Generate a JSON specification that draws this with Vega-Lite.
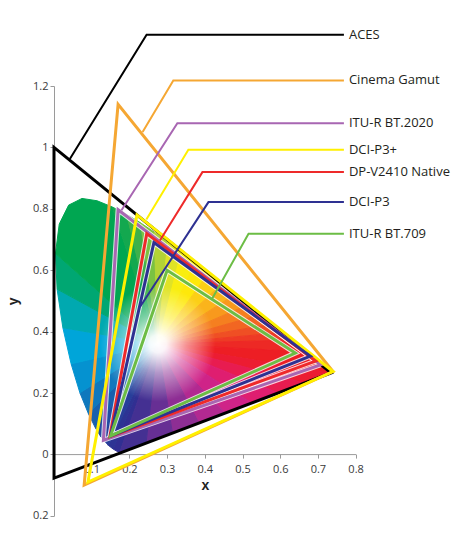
{
  "$schema": "https://vega.github.io/schema/vega-lite/v6.json",
  "width": 301.6,
  "height": 429.8,
  "autosize": "none",
  "padding": {"left": 54, "top": 86, "right": 109.4, "bottom": 24.2},
  "background": "white",
  "config": {"view": {"stroke": null}},
  "datasets": {
    "locus": [
      {"o": 0, "x": 0.1741, "y": 0.005},
      {"o": 1, "x": 0.1566, "y": 0.0177},
      {"o": 2, "x": 0.144, "y": 0.0297},
      {"o": 3, "x": 0.1241, "y": 0.0578},
      {"o": 4, "x": 0.1096, "y": 0.0868},
      {"o": 5, "x": 0.0913, "y": 0.1327},
      {"o": 6, "x": 0.0687, "y": 0.2007},
      {"o": 7, "x": 0.0454, "y": 0.295},
      {"o": 8, "x": 0.0235, "y": 0.4127},
      {"o": 9, "x": 0.0082, "y": 0.5384},
      {"o": 10, "x": 0.0039, "y": 0.6548},
      {"o": 11, "x": 0.0139, "y": 0.7502},
      {"o": 12, "x": 0.0389, "y": 0.812},
      {"o": 13, "x": 0.0743, "y": 0.8338},
      {"o": 14, "x": 0.1142, "y": 0.8262},
      {"o": 15, "x": 0.1547, "y": 0.8059},
      {"o": 16, "x": 0.1929, "y": 0.7816},
      {"o": 17, "x": 0.2296, "y": 0.7543},
      {"o": 18, "x": 0.2658, "y": 0.7243},
      {"o": 19, "x": 0.3016, "y": 0.6923},
      {"o": 20, "x": 0.3373, "y": 0.6589},
      {"o": 21, "x": 0.3731, "y": 0.6245},
      {"o": 22, "x": 0.4087, "y": 0.5896},
      {"o": 23, "x": 0.4441, "y": 0.5547},
      {"o": 24, "x": 0.4788, "y": 0.5202},
      {"o": 25, "x": 0.5125, "y": 0.4866},
      {"o": 26, "x": 0.5448, "y": 0.4544},
      {"o": 27, "x": 0.5752, "y": 0.4242},
      {"o": 28, "x": 0.6029, "y": 0.3965},
      {"o": 29, "x": 0.627, "y": 0.3725},
      {"o": 30, "x": 0.6658, "y": 0.334},
      {"o": 31, "x": 0.6915, "y": 0.3083},
      {"o": 32, "x": 0.719, "y": 0.2809},
      {"o": 33, "x": 0.7347, "y": 0.2653}
    ],
    "sec": [
      {"s": 0, "o": 0, "x": 0.275, "y": 0.36}, {"s": 0, "o": 1, "x": 0.1741, "y": 0.005}, {"s": 0, "o": 2, "x": 0.1566, "y": 0.0177},
      {"s": 1, "o": 0, "x": 0.275, "y": 0.36}, {"s": 1, "o": 1, "x": 0.1566, "y": 0.0177}, {"s": 1, "o": 2, "x": 0.144, "y": 0.0297},
      {"s": 2, "o": 0, "x": 0.275, "y": 0.36}, {"s": 2, "o": 1, "x": 0.144, "y": 0.0297}, {"s": 2, "o": 2, "x": 0.1241, "y": 0.0578},
      {"s": 3, "o": 0, "x": 0.275, "y": 0.36}, {"s": 3, "o": 1, "x": 0.1241, "y": 0.0578}, {"s": 3, "o": 2, "x": 0.1096, "y": 0.0868},
      {"s": 4, "o": 0, "x": 0.275, "y": 0.36}, {"s": 4, "o": 1, "x": 0.1096, "y": 0.0868}, {"s": 4, "o": 2, "x": 0.0913, "y": 0.1327},
      {"s": 5, "o": 0, "x": 0.275, "y": 0.36}, {"s": 5, "o": 1, "x": 0.0913, "y": 0.1327}, {"s": 5, "o": 2, "x": 0.0687, "y": 0.2007},
      {"s": 6, "o": 0, "x": 0.275, "y": 0.36}, {"s": 6, "o": 1, "x": 0.0687, "y": 0.2007}, {"s": 6, "o": 2, "x": 0.0454, "y": 0.295},
      {"s": 7, "o": 0, "x": 0.275, "y": 0.36}, {"s": 7, "o": 1, "x": 0.0454, "y": 0.295}, {"s": 7, "o": 2, "x": 0.0235, "y": 0.4127},
      {"s": 8, "o": 0, "x": 0.275, "y": 0.36}, {"s": 8, "o": 1, "x": 0.0235, "y": 0.4127}, {"s": 8, "o": 2, "x": 0.0082, "y": 0.5384},
      {"s": 9, "o": 0, "x": 0.275, "y": 0.36}, {"s": 9, "o": 1, "x": 0.0082, "y": 0.5384}, {"s": 9, "o": 2, "x": 0.0039, "y": 0.6548},
      {"s": 10, "o": 0, "x": 0.275, "y": 0.36}, {"s": 10, "o": 1, "x": 0.0039, "y": 0.6548}, {"s": 10, "o": 2, "x": 0.0139, "y": 0.7502}, {"s": 10, "o": 3, "x": 0.0389, "y": 0.812}, {"s": 10, "o": 4, "x": 0.0743, "y": 0.8338}, {"s": 10, "o": 5, "x": 0.1142, "y": 0.8262}, {"s": 10, "o": 6, "x": 0.1547, "y": 0.8059},
      {"s": 11, "o": 0, "x": 0.275, "y": 0.36}, {"s": 11, "o": 1, "x": 0.1547, "y": 0.8059}, {"s": 11, "o": 2, "x": 0.1929, "y": 0.7816},
      {"s": 12, "o": 0, "x": 0.275, "y": 0.36}, {"s": 12, "o": 1, "x": 0.1929, "y": 0.7816}, {"s": 12, "o": 2, "x": 0.2296, "y": 0.7543},
      {"s": 13, "o": 0, "x": 0.275, "y": 0.36}, {"s": 13, "o": 1, "x": 0.2296, "y": 0.7543}, {"s": 13, "o": 2, "x": 0.2658, "y": 0.7243},
      {"s": 14, "o": 0, "x": 0.275, "y": 0.36}, {"s": 14, "o": 1, "x": 0.2658, "y": 0.7243}, {"s": 14, "o": 2, "x": 0.3016, "y": 0.6923},
      {"s": 15, "o": 0, "x": 0.275, "y": 0.36}, {"s": 15, "o": 1, "x": 0.3016, "y": 0.6923}, {"s": 15, "o": 2, "x": 0.3373, "y": 0.6589},
      {"s": 16, "o": 0, "x": 0.275, "y": 0.36}, {"s": 16, "o": 1, "x": 0.3373, "y": 0.6589}, {"s": 16, "o": 2, "x": 0.3731, "y": 0.6245},
      {"s": 17, "o": 0, "x": 0.275, "y": 0.36}, {"s": 17, "o": 1, "x": 0.3731, "y": 0.6245}, {"s": 17, "o": 2, "x": 0.4087, "y": 0.5896},
      {"s": 18, "o": 0, "x": 0.275, "y": 0.36}, {"s": 18, "o": 1, "x": 0.4087, "y": 0.5896}, {"s": 18, "o": 2, "x": 0.4441, "y": 0.5547},
      {"s": 19, "o": 0, "x": 0.275, "y": 0.36}, {"s": 19, "o": 1, "x": 0.4441, "y": 0.5547}, {"s": 19, "o": 2, "x": 0.4788, "y": 0.5202},
      {"s": 20, "o": 0, "x": 0.275, "y": 0.36}, {"s": 20, "o": 1, "x": 0.4788, "y": 0.5202}, {"s": 20, "o": 2, "x": 0.5125, "y": 0.4866},
      {"s": 21, "o": 0, "x": 0.275, "y": 0.36}, {"s": 21, "o": 1, "x": 0.5125, "y": 0.4866}, {"s": 21, "o": 2, "x": 0.5448, "y": 0.4544},
      {"s": 22, "o": 0, "x": 0.275, "y": 0.36}, {"s": 22, "o": 1, "x": 0.5448, "y": 0.4544}, {"s": 22, "o": 2, "x": 0.5752, "y": 0.4242},
      {"s": 23, "o": 0, "x": 0.275, "y": 0.36}, {"s": 23, "o": 1, "x": 0.5752, "y": 0.4242}, {"s": 23, "o": 2, "x": 0.6029, "y": 0.3965},
      {"s": 24, "o": 0, "x": 0.275, "y": 0.36}, {"s": 24, "o": 1, "x": 0.6029, "y": 0.3965}, {"s": 24, "o": 2, "x": 0.627, "y": 0.3725},
      {"s": 25, "o": 0, "x": 0.275, "y": 0.36}, {"s": 25, "o": 1, "x": 0.627, "y": 0.3725}, {"s": 25, "o": 2, "x": 0.6658, "y": 0.334},
      {"s": 26, "o": 0, "x": 0.275, "y": 0.36}, {"s": 26, "o": 1, "x": 0.6658, "y": 0.334}, {"s": 26, "o": 2, "x": 0.6915, "y": 0.3083}, {"s": 26, "o": 3, "x": 0.719, "y": 0.2809}, {"s": 26, "o": 4, "x": 0.7347, "y": 0.2653},
      {"s": 27, "o": 0, "x": 0.275, "y": 0.36}, {"s": 27, "o": 1, "x": 0.7347, "y": 0.2653}, {"s": 27, "o": 2, "x": 0.6646, "y": 0.2328},
      {"s": 28, "o": 0, "x": 0.275, "y": 0.36}, {"s": 28, "o": 1, "x": 0.6646, "y": 0.2328}, {"s": 28, "o": 2, "x": 0.5945, "y": 0.2003},
      {"s": 29, "o": 0, "x": 0.275, "y": 0.36}, {"s": 29, "o": 1, "x": 0.5945, "y": 0.2003}, {"s": 29, "o": 2, "x": 0.5244, "y": 0.1678},
      {"s": 30, "o": 0, "x": 0.275, "y": 0.36}, {"s": 30, "o": 1, "x": 0.5244, "y": 0.1678}, {"s": 30, "o": 2, "x": 0.4544, "y": 0.1352},
      {"s": 31, "o": 0, "x": 0.275, "y": 0.36}, {"s": 31, "o": 1, "x": 0.4544, "y": 0.1352}, {"s": 31, "o": 2, "x": 0.3843, "y": 0.1027},
      {"s": 32, "o": 0, "x": 0.275, "y": 0.36}, {"s": 32, "o": 1, "x": 0.3843, "y": 0.1027}, {"s": 32, "o": 2, "x": 0.3142, "y": 0.0701},
      {"s": 33, "o": 0, "x": 0.275, "y": 0.36}, {"s": 33, "o": 1, "x": 0.3142, "y": 0.0701}, {"s": 33, "o": 2, "x": 0.2442, "y": 0.0376},
      {"s": 34, "o": 0, "x": 0.275, "y": 0.36}, {"s": 34, "o": 1, "x": 0.2442, "y": 0.0376}, {"s": 34, "o": 2, "x": 0.1741, "y": 0.005}
    ],
    "gamut": [
      {"g": "ACES", "o": 0, "x": 0.7347, "y": 0.2653}, {"g": "ACES", "o": 1, "x": 0.0, "y": 1.0}, {"g": "ACES", "o": 2, "x": 0.0001, "y": -0.077},
      {"g": "Cinema Gamut", "o": 0, "x": 0.74, "y": 0.27}, {"g": "Cinema Gamut", "o": 1, "x": 0.17, "y": 1.14}, {"g": "Cinema Gamut", "o": 2, "x": 0.08, "y": -0.1},
      {"g": "ITU-R BT.2020", "o": 0, "x": 0.708, "y": 0.292}, {"g": "ITU-R BT.2020", "o": 1, "x": 0.17, "y": 0.797}, {"g": "ITU-R BT.2020", "o": 2, "x": 0.131, "y": 0.046},
      {"g": "DCI-P3+", "o": 0, "x": 0.74, "y": 0.27}, {"g": "DCI-P3+", "o": 1, "x": 0.22, "y": 0.78}, {"g": "DCI-P3+", "o": 2, "x": 0.09, "y": -0.09},
      {"g": "DP-V2410 Native", "o": 0, "x": 0.694, "y": 0.304}, {"g": "DP-V2410 Native", "o": 1, "x": 0.246, "y": 0.719}, {"g": "DP-V2410 Native", "o": 2, "x": 0.148, "y": 0.058},
      {"g": "DCI-P3", "o": 0, "x": 0.68, "y": 0.32}, {"g": "DCI-P3", "o": 1, "x": 0.265, "y": 0.69}, {"g": "DCI-P3", "o": 2, "x": 0.15, "y": 0.06},
      {"g": "ITU-R BT.709", "o": 0, "x": 0.64, "y": 0.33}, {"g": "ITU-R BT.709", "o": 1, "x": 0.3, "y": 0.6}, {"g": "ITU-R BT.709", "o": 2, "x": 0.15, "y": 0.06}
    ],
    "lead": [
      {"g": "ACES", "o": 0, "x": 0.042, "y": 0.962}, {"g": "ACES", "o": 1, "x": 0.2456, "y": 1.367}, {"g": "ACES", "o": 2, "x": 0.769, "y": 1.367},
      {"g": "Cinema Gamut", "o": 0, "x": 0.235, "y": 1.05}, {"g": "Cinema Gamut", "o": 1, "x": 0.3165, "y": 1.218}, {"g": "Cinema Gamut", "o": 2, "x": 0.769, "y": 1.218},
      {"g": "ITU-R BT.2020", "o": 0, "x": 0.179, "y": 0.795}, {"g": "ITU-R BT.2020", "o": 1, "x": 0.3272, "y": 1.079}, {"g": "ITU-R BT.2020", "o": 2, "x": 0.769, "y": 1.079},
      {"g": "DCI-P3+", "o": 0, "x": 0.245, "y": 0.765}, {"g": "DCI-P3+", "o": 1, "x": 0.3564, "y": 0.9925}, {"g": "DCI-P3+", "o": 2, "x": 0.769, "y": 0.9925},
      {"g": "DP-V2410 Native", "o": 0, "x": 0.281, "y": 0.697}, {"g": "DP-V2410 Native", "o": 1, "x": 0.3937, "y": 0.9195}, {"g": "DP-V2410 Native", "o": 2, "x": 0.769, "y": 0.9195},
      {"g": "DCI-P3", "o": 0, "x": 0.228, "y": 0.48}, {"g": "DCI-P3", "o": 1, "x": 0.4097, "y": 0.8218}, {"g": "DCI-P3", "o": 2, "x": 0.769, "y": 0.8218},
      {"g": "ITU-R BT.709", "o": 0, "x": 0.419, "y": 0.506}, {"g": "ITU-R BT.709", "o": 1, "x": 0.516, "y": 0.7189}, {"g": "ITU-R BT.709", "o": 2, "x": 0.769, "y": 0.7189}
    ],
    "labels": [
      {"g": "ACES", "x": 0.7823, "y": 1.367},
      {"g": "Cinema Gamut", "x": 0.7823, "y": 1.218},
      {"g": "ITU-R BT.2020", "x": 0.7823, "y": 1.079},
      {"g": "DCI-P3+", "x": 0.7823, "y": 0.9925},
      {"g": "DP-V2410 Native", "x": 0.7823, "y": 0.9195},
      {"g": "DCI-P3", "x": 0.7823, "y": 0.8218},
      {"g": "ITU-R BT.709", "x": 0.7823, "y": 0.7189}
    ]
  },
  "encoding": {
    "x": {
      "field": "x",
      "type": "quantitative",
      "scale": {"domain": [0, 0.8], "nice": false, "zero": false},
      "axis": {
        "title": "x",
        "values": [0, 0.1, 0.2, 0.3, 0.4, 0.5, 0.6, 0.7, 0.8],
        "labelExpr": "datum.value == 0 ? '' : format(datum.value, '~g')",
        "offset": -61.7,
        "grid": false,
        "domainColor": "#9a9a9a",
        "tickColor": "#9a9a9a",
        "tickSize": 4,
        "labelPadding": 5,
        "labelFont": "Open Sans",
        "labelFontSize": 11,
        "labelColor": "#3a3a3a",
        "labelFlush": false,
        "labelOverlap": false,
        "titleFont": "Liberation Sans",
        "titleFontSize": 14,
        "titleFontWeight": "bold",
        "titleColor": "#222222",
        "titlePadding": 4
      }
    },
    "y": {
      "field": "y",
      "type": "quantitative",
      "scale": {"domain": [-0.2, 1.2], "nice": false, "zero": false},
      "axis": {
        "title": "y",
        "values": [-0.2, 0, 0.2, 0.4, 0.6, 0.8, 1, 1.2],
        "labelExpr": "format(abs(datum.value), '~g')",
        "grid": false,
        "domainColor": "#9a9a9a",
        "tickColor": "#9a9a9a",
        "tickSize": 4,
        "labelFont": "Open Sans",
        "labelFontSize": 11,
        "labelColor": "#3a3a3a",
        "labelFlush": false,
        "labelOverlap": false,
        "titleFont": "Liberation Sans",
        "titleFontSize": 14,
        "titleFontWeight": "bold",
        "titleColor": "#222222",
        "titlePadding": 12
      }
    }
  },
  "layer": [
    {
      "data": {"name": "sec"},
      "mark": {"type": "line", "interpolate": "linear-closed", "strokeWidth": 1},
      "encoding": {
        "order": {"field": "o"},
        "fill": {
          "field": "s", "type": "ordinal", "legend": null,
          "scale": {
            "domain": [0, 1, 2, 3, 4, 5, 6, 7, 8, 9, 10, 11, 12, 13, 14, 15, 16, 17, 18, 19, 20, 21, 22, 23, 24, 25, 26, 27, 28, 29, 30, 31, 32, 33, 34],
            "range": ["#312f92", "#2d3494", "#283e9a", "#214da4", "#1860ae", "#0f78bd", "#0592d0", "#00a5d9", "#00a9b0", "#00a772", "#00a651", "#13a84f", "#3eb14a", "#7ac242", "#b3d336", "#e0e326", "#f9ee10", "#fee80a", "#fccf16", "#fab41b", "#f8991d", "#f57f20", "#f26622", "#ef4f24", "#ee3a25", "#ed2925", "#ed1e24", "#ec1c32", "#e81c50", "#df1e70", "#cf2388", "#b22991", "#8e2e94", "#672f94", "#443092"]
          }
        },
        "stroke": {
          "field": "s", "type": "ordinal", "legend": null,
          "scale": {
            "domain": [0, 1, 2, 3, 4, 5, 6, 7, 8, 9, 10, 11, 12, 13, 14, 15, 16, 17, 18, 19, 20, 21, 22, 23, 24, 25, 26, 27, 28, 29, 30, 31, 32, 33, 34],
            "range": ["#312f92", "#2d3494", "#283e9a", "#214da4", "#1860ae", "#0f78bd", "#0592d0", "#00a5d9", "#00a9b0", "#00a772", "#00a651", "#13a84f", "#3eb14a", "#7ac242", "#b3d336", "#e0e326", "#f9ee10", "#fee80a", "#fccf16", "#fab41b", "#f8991d", "#f57f20", "#f26622", "#ef4f24", "#ee3a25", "#ed2925", "#ed1e24", "#ec1c32", "#e81c50", "#df1e70", "#cf2388", "#b22991", "#8e2e94", "#672f94", "#443092"]
          }
        }
      }
    },
    {
      "data": {"name": "locus"},
      "mark": {"type": "line", "interpolate": "linear-closed", "strokeOpacity": 0,
        "fill": {"gradient": "radial", "x1": 0.371, "y1": 0.566, "r1": 0, "x2": 0.371, "y2": 0.566, "r2": 0.21,
          "stops": [
            {"offset": 0, "color": "rgba(255,255,255,1)"},
            {"offset": 0.15, "color": "rgba(255,255,255,0.95)"},
            {"offset": 0.5, "color": "rgba(255,255,255,0.5)"},
            {"offset": 1, "color": "rgba(255,255,255,0)"}
          ]}},
      "encoding": {"order": {"field": "o"}}
    },
    {
      "data": {"name": "gamut"},
      "transform": [{"filter": "datum.g != 'ACES' && datum.g != 'Cinema Gamut' && datum.g != 'DCI-P3+'"}],
      "mark": {"type": "line", "interpolate": "linear-closed", "strokeWidth": 5, "stroke": "#ffffff", "strokeOpacity": 0.8},
      "encoding": {"order": {"field": "o"}, "detail": {"field": "g"}}
    },
    {
      "data": {"name": "gamut"},
      "mark": {"type": "line", "interpolate": "linear-closed", "strokeWidth": 3, "strokeJoin": "miter"},
      "encoding": {
        "order": {"field": "o"},
        "color": {
          "field": "g",
          "type": "nominal",
          "legend": null,
          "scale": {
            "domain": ["ACES", "Cinema Gamut", "ITU-R BT.2020", "DCI-P3+", "DP-V2410 Native", "DCI-P3", "ITU-R BT.709"],
            "range": ["#000000", "#f5a733", "#a866b2", "#fff000", "#ee2a2a", "#2e3192", "#6cbd45"]
          }
        }
      }
    },
    {
      "data": {"name": "lead"},
      "mark": {"type": "line", "strokeWidth": 2},
      "encoding": {
        "order": {"field": "o"},
        "color": {"field": "g", "type": "nominal", "legend": null}
      }
    },
    {
      "data": {"name": "labels"},
      "mark": {"type": "text", "align": "left", "baseline": "middle", "font": "Open Sans", "fontSize": 13, "color": "#231f20"},
      "encoding": {"text": {"field": "g"}}
    }
  ]
}
